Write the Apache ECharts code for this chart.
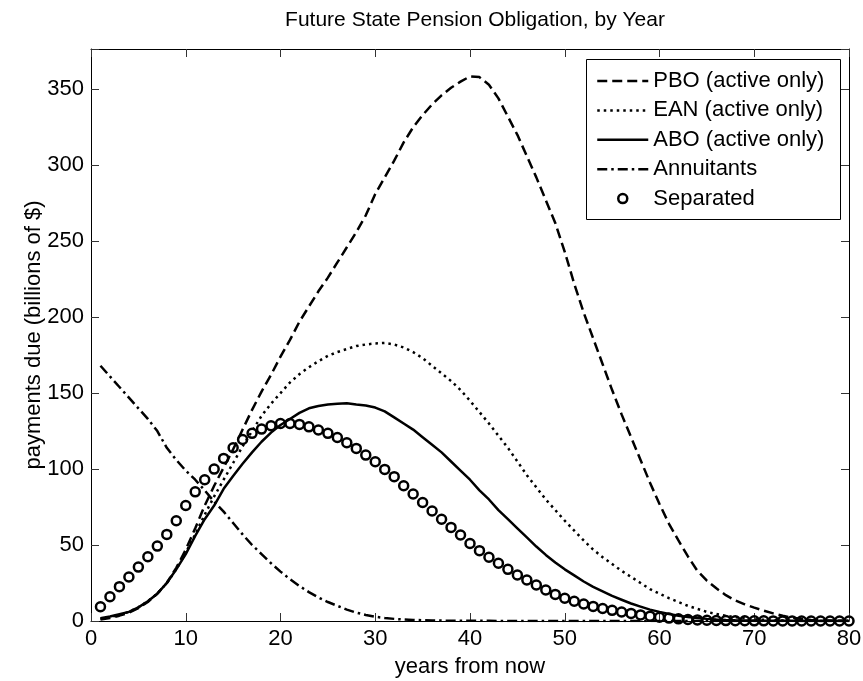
<!DOCTYPE html>
<html lang="en">
<head>
    <meta charset="UTF-8">
    <title>Future State Pension Obligation, by Year</title>
    <script src="https://cdn.jsdelivr.net/npm/echarts@6/dist/echarts.min.js"></script>
    <style>
        body { margin: 0; background-color: #fff; }
        #chart { width: 863px; height: 681px; }
    </style>
</head>
<body>
    <div id="chart"></div>
    <script>
        // years 1..80 (one point per year)
        const years = [
            1, 2, 3, 4, 5, 6, 7, 8, 9, 10, 11, 12, 13, 14, 15, 16, 17, 18, 19, 20,
            21, 22, 23, 24, 25, 26, 27, 28, 29, 30, 31, 32, 33, 34, 35, 36, 37, 38, 39, 40,
            41, 42, 43, 44, 45, 46, 47, 48, 49, 50, 51, 52, 53, 54, 55, 56, 57, 58, 59, 60,
            61, 62, 63, 64, 65, 66, 67, 68, 69, 70, 71, 72, 73, 74, 75, 76, 77, 78, 79, 80
        ];
        const pbo = [
            1, 2, 3.5, 5.5, 8.5, 12.5, 18, 25, 35, 47,
            61, 76, 89, 101, 113, 126, 139, 151, 162, 174,
            185, 197, 207, 217, 226, 236, 246, 256, 267, 281,
            292, 303, 315, 325, 333, 340, 346, 351, 355, 358.5,
            358, 353, 344, 332, 320, 306, 292, 277, 262, 243,
            222, 203, 186, 169, 152, 136, 121, 106, 91, 77,
            64, 53, 42.5, 33, 26.5, 21.5, 17, 13.5, 11, 8.8,
            6.8, 5, 3.4, 2.2, 1.3, 0.7, 0.4, 0.3, 0.2, 0.1
        ];
        const ean = [
            1.5, 2.5, 4, 6, 9, 13, 18, 25, 34, 45,
            57, 70, 82, 93, 104, 115, 125, 135, 143, 150,
            157, 162.5, 167, 171, 174.5, 177, 179, 181, 182, 182.7,
            183, 182, 180, 177, 173, 168, 163, 158, 152, 145,
            137.5, 130, 122, 114, 105, 96, 88, 80, 73, 66,
            59.5, 53, 47, 42, 37.5, 33, 29, 25, 21, 18,
            15, 12.5, 10, 8, 6, 4.6, 3.4, 2.5, 1.8, 1.2,
            0.8, 0.5, 0.3, 0.2, 0.1, 0.1, 0, 0, 0, 0
        ];
        const abo = [
            1.8, 3, 4.5, 6, 9, 13, 18, 25, 34, 44,
            56, 67, 76, 87, 95.5, 103.5, 111, 118, 124, 129,
            133, 137, 140, 141.5, 142.5, 143, 143.3, 142.5, 141.8, 140.5,
            138, 134, 130, 126, 121, 116, 111, 105, 99, 93,
            86, 80, 73, 67, 61, 55, 49, 43.5, 38.5, 34,
            30, 26, 22.5, 19.5, 16.5, 14, 11.5, 9.5, 7.5, 6,
            4.6, 3.5, 2.6, 1.9, 1.4, 1, 0.7, 0.5, 0.35, 0.25,
            0.2, 0.15, 0.1, 0.1, 0.05, 0.05, 0, 0, 0, 0
        ];
        const annuitants = [
            168, 161, 154, 147, 140, 133, 125, 114, 106, 99,
            93, 86, 78.5, 72, 64.5, 57, 50, 44, 38, 32.5,
            27.5, 23, 19, 15.5, 12.5, 10, 7.5, 5.5, 4, 2.8,
            2, 1.4, 1, 0.7, 0.5, 0.35, 0.25, 0.2, 0.15, 0.1,
            0.1, 0.1, 0.05, 0.05, 0, 0, 0, 0, 0, 0,
            0, 0, 0, 0, 0, 0, 0, 0, 0, 0,
            0, 0, 0, 0, 0, 0, 0, 0, 0, 0,
            0, 0, 0, 0, 0, 0, 0, 0, 0, 0
        ];
        const separated = [
            9.4, 16, 22.6, 29, 35.5, 42.3, 49.3, 57, 66, 76,
            85, 93, 100, 107, 114, 119.5, 123.5, 126.3, 128.5, 130,
            130, 129.4, 127.8, 125.7, 123.5, 120.8, 117.3, 113.6, 109.2, 104.8,
            99.8, 95, 89, 83.6, 78, 72.4, 67, 61.6, 56.6, 51,
            46.3, 42, 38, 34, 30.3, 27, 23.7, 20.4, 17.5, 15,
            13, 11.2, 9.6, 8.2, 7, 5.9, 5, 4, 3.2, 2.5,
            1.9, 1.4, 1, 0.7, 0.5, 0.35, 0.25, 0.2, 0.15, 0.1,
            0.1, 0.05, 0.05, 0, 0, 0, 0, 0, 0, 0
        ];
        const seriesNames = ['PBO (active only)', 'EAN (active only)', 'ABO (active only)', 'Annuitants', 'Separated'];

        const FONT = "'Liberation Sans', Arial, Helvetica, sans-serif";
        const dashes = {
            pbo: [10, 5],
            ean: [2.5, 4],
            abo: 'solid',
            ann: [10, 4, 2.5, 4]
        };

        function pairs(ys) {
            return years.map((x, i) => [x, ys[i]]);
        }

        function lineSeries(name, ys, dash) {
            return {
                name: name,
                type: 'line',
                data: pairs(ys),
                symbol: 'none',
                xAxisIndex: 0,
                yAxisIndex: 0,
                lineStyle: { color: '#000', width: 2.5, type: dash },
                itemStyle: { color: '#000' },
                z: 2
            };
        }

        // legend entry for a line: line only, hide the dot
        function legendLine(name, dash) {
            return {
                name: name,
                lineStyle: { width: 2.5, type: dash, color: '#000' },
                itemStyle: { opacity: 0, color: 'rgba(0,0,0,0)', borderWidth: 0 }
            };
        }

        const tickStyle = { show: true, inside: true, length: 8, lineStyle: { color: '#333', width: 1 } };
        const lineAxis = { show: true, onZero: false, lineStyle: { color: '#000', width: 1 } };
        const labelFont = { color: '#000', fontSize: 22, fontFamily: FONT };

        const chart = echarts.init(document.getElementById('chart'), null, { renderer: 'canvas' });
        chart.setOption({
            animation: false,
            backgroundColor: '#fff',
            title: {
                text: 'Future State Pension Obligation, by Year',
                left: 470,
                textAlign: 'center',
                top: 5,
                textStyle: { fontSize: 21, fontWeight: 'normal', color: '#000', fontFamily: FONT }
            },
            grid: { left: 91, right: 14, top: 49, bottom: 60, outerBoundsMode: 'none', containLabel: false },
            xAxis: [
                {
                    type: 'value', min: 0, max: 80, interval: 10, position: 'bottom',
                    name: 'years from now', nameLocation: 'middle', nameGap: 35,
                    nameMoveOverlap: false,
                    nameTextStyle: labelFont,
                    axisLine: lineAxis, axisTick: tickStyle,
                    axisLabel: Object.assign({ margin: 7 }, labelFont),
                    splitLine: { show: false }
                },
                {
                    type: 'value', min: 0, max: 80, interval: 10, position: 'top',
                    axisLine: lineAxis, axisTick: tickStyle,
                    axisLabel: { show: false }, splitLine: { show: false }
                }
            ],
            yAxis: [
                {
                    type: 'value', min: 0, max: 376.5, interval: 50, position: 'left',
                    name: 'payments due (billions of $)', nameLocation: 'middle', nameGap: 46,
                    nameMoveOverlap: false,
                    nameTextStyle: labelFont,
                    axisLine: lineAxis, axisTick: tickStyle,
                    axisLabel: Object.assign({
                        margin: 7,
                        formatter: v => (v % 50 === 0 ? String(v) : '')
                    }, labelFont),
                    splitLine: { show: false }
                },
                {
                    type: 'value', min: 0, max: 376.5, interval: 50, position: 'right',
                    axisLine: lineAxis, axisTick: tickStyle,
                    axisLabel: { show: false }, splitLine: { show: false }
                }
            ],
            legend: {
                orient: 'vertical',
                left: 596,
                top: 70,
                padding: 0,
                itemWidth: 51,
                itemHeight: 9,
                itemGap: 7.4,
                z: 6,
                textStyle: { fontSize: 22, lineHeight: 22, color: '#000', fontFamily: FONT },
                data: [
                    legendLine(seriesNames[0], dashes.pbo),
                    legendLine(seriesNames[1], dashes.ean),
                    legendLine(seriesNames[2], 'solid'),
                    legendLine(seriesNames[3], dashes.ann),
                    { name: seriesNames[4], icon: 'circle',
                      itemStyle: { color: 'rgba(0,0,0,0)', borderColor: '#000', borderWidth: 2.5 } }
                ]
            },
            graphic: [
                {
                    type: 'rect', z: 5,
                    shape: { x: 586.5, y: 59.5, width: 254, height: 160 },
                    style: { fill: '#fff', stroke: '#000', lineWidth: 1 }
                }
            ],
            series: [
                lineSeries(seriesNames[0], pbo, dashes.pbo),
                lineSeries(seriesNames[1], ean, dashes.ean),
                lineSeries(seriesNames[2], abo, dashes.abo),
                lineSeries(seriesNames[3], annuitants, dashes.ann),
                {
                    name: seriesNames[4],
                    type: 'scatter',
                    data: pairs(separated),
                    symbol: 'circle',
                    symbolSize: 9,
                    itemStyle: { color: 'rgba(0,0,0,0)', borderColor: '#000', borderWidth: 2.5, opacity: 1 },
                    z: 3
                }
            ]
        });
    </script>
</body>
</html>
